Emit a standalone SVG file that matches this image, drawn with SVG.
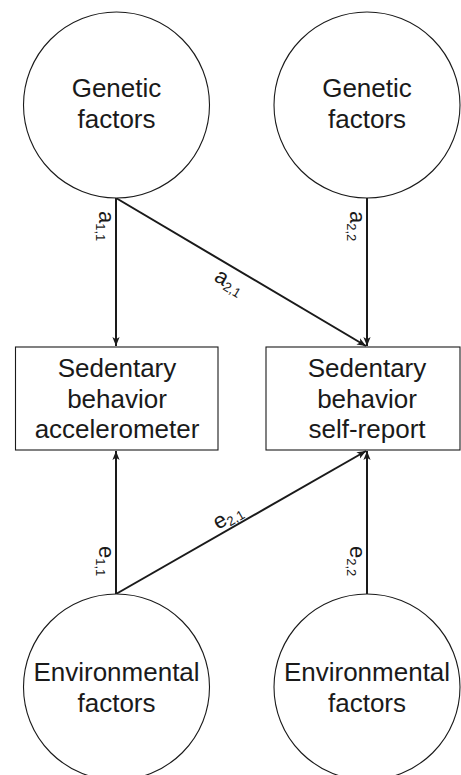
<svg xmlns="http://www.w3.org/2000/svg" width="461" height="775" viewBox="0 0 461 775">
  <defs>
    <style>
      .node-shape { fill: #ffffff; stroke: #1a1a1a; stroke-width: 1.1; }
      .node-text { font-family: "Liberation Sans", Arial, sans-serif; font-size: 26px; fill: #1a1a1a; text-anchor: middle; }
      .edge { fill: none; stroke: #1a1a1a; stroke-width: 2; marker-end: url(#arrow); }
      .edge-label { font-family: "Liberation Sans", Arial, sans-serif; font-size: 22px; fill: #1a1a1a; }
      .sub { font-size: 13px; }
    </style>
    <marker id="arrow" viewBox="0 0 10 10" refX="10" refY="5" markerWidth="4.5" markerHeight="4.5" orient="auto" markerUnits="strokeWidth">
      <path d="M0,1 L10,5 L0,9 L2.5,5 Z" fill="#1a1a1a"/>
    </marker>
  </defs>

  <rect width="461" height="775" fill="#ffffff"/>

  <!-- connectors -->
  <g id="connectors">
    <line class="edge" x1="116" y1="198" x2="116" y2="346"/>
    <line class="edge" x1="116" y1="198" x2="366" y2="346"/>
    <line class="edge" x1="367" y1="198" x2="367" y2="346"/>
    <line class="edge" x1="116" y1="594" x2="116" y2="451"/>
    <line class="edge" x1="116" y1="594" x2="366" y2="451"/>
    <line class="edge" x1="367" y1="594" x2="367" y2="451"/>

    <text class="edge-label" transform="translate(99,211) rotate(90)">a<tspan class="sub" dy="3">1,1</tspan></text>
    <text class="edge-label" transform="translate(350,211) rotate(90)">a<tspan class="sub" dy="3">2,2</tspan></text>
    <text class="edge-label" transform="translate(213,280) rotate(31)">a<tspan class="sub" dy="3">2,1</tspan></text>
    <text class="edge-label" transform="translate(99,546) rotate(90)">e<tspan class="sub" dy="3">1,1</tspan></text>
    <text class="edge-label" transform="translate(350,546) rotate(90)">e<tspan class="sub" dy="3">2,2</tspan></text>
    <text class="edge-label" transform="translate(218,530) rotate(-30)">e<tspan class="sub" dy="3">2,1</tspan></text>
  </g>

  <!-- latent genetic factors -->
  <g id="genetic-1">
    <circle class="node-shape" cx="116.5" cy="105" r="93"/>
    <text class="node-text" x="116.5" y="97">Genetic</text>
    <text class="node-text" x="116.5" y="128">factors</text>
  </g>
  <g id="genetic-2">
    <circle class="node-shape" cx="367" cy="105" r="93"/>
    <text class="node-text" x="367" y="97">Genetic</text>
    <text class="node-text" x="367" y="128">factors</text>
  </g>

  <!-- observed measures -->
  <g id="accelerometer">
    <rect class="node-shape" x="15.5" y="347" width="202.5" height="103"/>
    <text class="node-text" x="117" y="377">Sedentary</text>
    <text class="node-text" x="117" y="408">behavior</text>
    <text class="node-text" x="117" y="438">accelerometer</text>
  </g>
  <g id="self-report">
    <rect class="node-shape" x="266" y="347" width="194" height="103"/>
    <text class="node-text" x="367" y="377">Sedentary</text>
    <text class="node-text" x="367" y="408">behavior</text>
    <text class="node-text" x="367" y="438">self-report</text>
  </g>

  <!-- latent environmental factors -->
  <g id="environmental-1">
    <circle class="node-shape" cx="116.5" cy="687" r="93"/>
    <text class="node-text" x="116.5" y="681">Environmental</text>
    <text class="node-text" x="116.5" y="712">factors</text>
  </g>
  <g id="environmental-2">
    <circle class="node-shape" cx="367" cy="687" r="93"/>
    <text class="node-text" x="367" y="681">Environmental</text>
    <text class="node-text" x="367" y="712">factors</text>
  </g>
</svg>
